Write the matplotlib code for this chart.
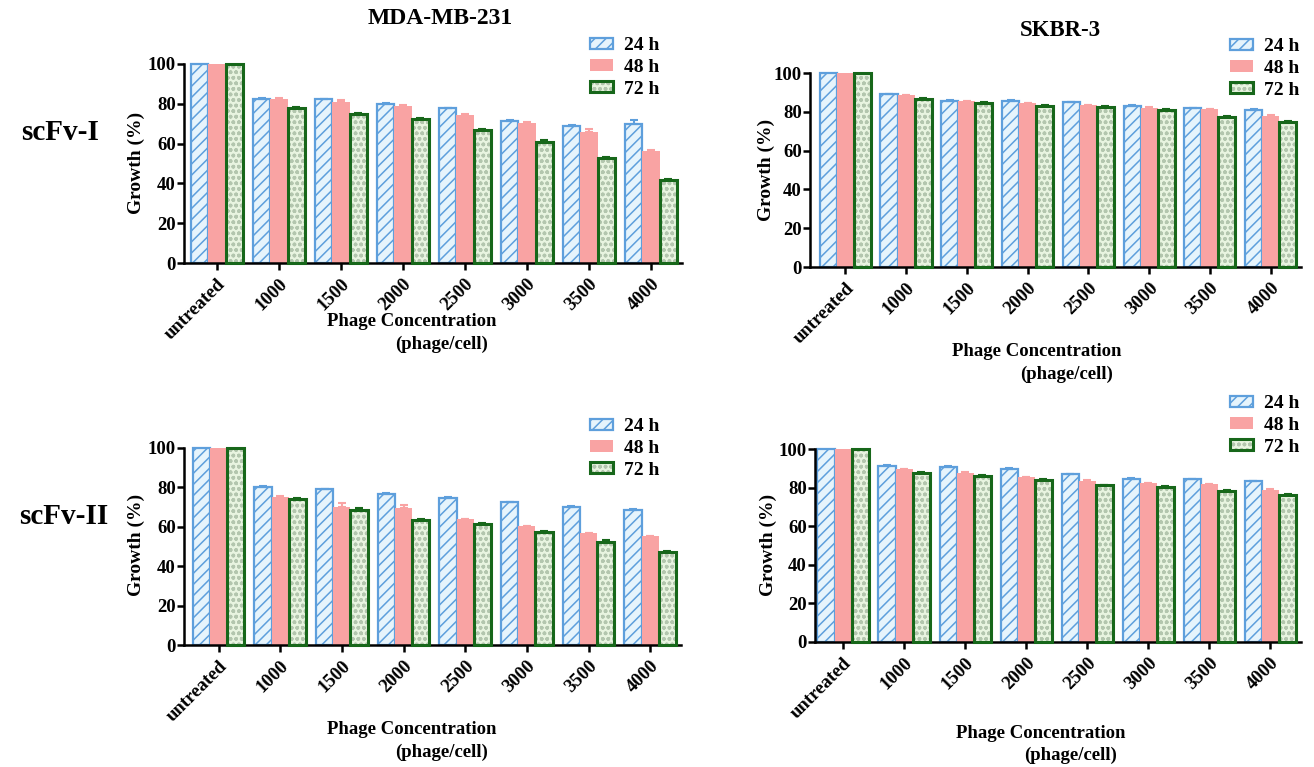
import numpy as np
import matplotlib.pyplot as plt
from matplotlib.patches import Patch

plt.rcParams['font.family'] = ['Liberation Serif', 'DejaVu Serif']
plt.rcParams['font.weight'] = 'bold'
plt.rcParams['hatch.linewidth'] = 1.1

categories = ['untreated', '1000', '1500', '2000', '2500', '3000', '3500', '4000']
series = ['24 h', '48 h', '72 h']

# growth (%)
mda_scfv1_24 = [100, 82.5, 82.2, 80.0, 77.8, 71.4, 68.8, 69.7]
mda_scfv1_48 = [100, 82.5, 81.0, 78.9, 74.5, 70.5, 65.8, 56.4]
mda_scfv1_72 = [100, 77.7, 74.9, 72.2, 67.0, 61.0, 52.9, 41.7]
mda_scfv1_err = [[0, 0.3, 0.3, 0.3, 0.3, 0.4, 0.5, 2.3],
                 [0, 0.2, 0.9, 0.3, 0.2, 0.3, 1.3, 0.2],
                 [0, 0.5, 0.5, 0.5, 0.5, 0.6, 0.6, 0.5]]

skbr_scfv1_24 = [100, 89.0, 85.8, 85.8, 84.8, 83.1, 81.9, 81.0]
skbr_scfv1_48 = [100, 88.5, 85.5, 84.5, 83.5, 82.2, 81.3, 78.0]
skbr_scfv1_72 = [100, 86.8, 84.7, 83.0, 82.3, 80.7, 77.2, 75.0]
skbr_scfv1_err = [[0, 0.3, 0.3, 0.3, 0.3, 0.3, 0.3, 0.3],
                  [0, 0.2, 0.2, 0.2, 0.2, 0.2, 0.2, 0.5],
                  [0, 0.5, 0.5, 0.5, 0.5, 0.5, 0.5, 0.5]]

mda_scfv2_24 = [100, 80.2, 79.0, 76.7, 74.6, 72.5, 70.3, 68.5]
mda_scfv2_48 = [100, 75.3, 69.8, 69.6, 64.0, 60.4, 56.7, 55.1]
mda_scfv2_72 = [100, 74.3, 68.5, 63.5, 61.2, 57.5, 52.4, 47.0]
mda_scfv2_err = [[0, 0.3, 0.3, 0.3, 0.3, 0.3, 0.3, 0.3],
                 [0, 0.2, 2.3, 1.4, 0.2, 0.2, 0.2, 0.2],
                 [0, 0.5, 0.8, 0.5, 0.5, 0.5, 0.8, 0.5]]

skbr_scfv2_24 = [100, 91.4, 90.7, 89.6, 87.0, 84.7, 84.2, 83.2]
skbr_scfv2_48 = [100, 89.5, 87.8, 85.4, 83.5, 82.2, 81.7, 79.0]
skbr_scfv2_72 = [100, 87.5, 85.9, 84.0, 81.1, 80.1, 78.0, 76.2]
skbr_scfv2_err = [[0, 0.3, 0.3, 0.3, 0.3, 0.3, 0.3, 0.3],
                  [0, 0.2, 0.2, 0.2, 0.2, 0.2, 0.2, 0.2],
                  [0, 0.5, 0.5, 0.5, 0.5, 0.5, 0.5, 0.5]]

blue_edge = '#5e9fdc'
blue_fill = '#e6f4fc'
pink = '#f9a3a3'
green_edge = '#17671a'
green_fill = '#e8f4e0'
green_hatch = '#b3c6ae'

W, H = 1314, 767
fig = plt.figure(figsize=(W / 100, H / 100), dpi=100)


def px(x0, y0, x1, y1):
    # pixel box -> figure fraction rect
    return [x0 / W, 1 - y1 / H, (x1 - x0) / W, (y1 - y0) / H]


def panel(rect, xleft, v24, v48, v72, err):
    ax = fig.add_axes(rect)
    x = np.arange(len(categories))
    w = 0.28
    ax.bar(x - w, v24, w, color=blue_fill, edgecolor=blue_edge, hatch='///',
           linewidth=1.6, zorder=2, clip_on=False)
    ax.bar(x, v48, w, color=pink, linewidth=0, zorder=2, clip_on=False)
    ax.bar(x + w, v72, w, color=green_fill, edgecolor=green_hatch, hatch='ooo',
           linewidth=0, zorder=2, clip_on=False)
    ax.bar(x + w, v72, w, fill=False, edgecolor=green_edge, linewidth=2.2,
           zorder=3, clip_on=False)
    for off, vals, e, c in [(-w, v24, err[0], blue_edge), (0, v48, err[1], pink),
                            (w, v72, err[2], green_edge)]:
        e = np.array(e)
        m = e > 0
        ax.errorbar((x + off)[m], np.array(vals)[m], yerr=[np.zeros(m.sum()), e[m]],
                    fmt='none', ecolor=c, elinewidth=1.5, capsize=3, capthick=1.5,
                    zorder=4, clip_on=False)
    ax.set_xlim(xleft, 7.5)
    ax.set_ylim(0, 100)
    ax.set_yticks([0, 20, 40, 60, 80, 100])
    ax.set_xticks(x)
    ax.set_xticklabels(categories, rotation=45, ha='right', rotation_mode='anchor')
    for s in ['top', 'right']:
        ax.spines[s].set_visible(False)
    for s in ['left', 'bottom']:
        ax.spines[s].set_linewidth(1.8)
    ax.tick_params(width=1.8, length=5, labelsize=13.5, pad=1)
    ax.tick_params(axis='x', pad=4)
    return ax


def legend(ax, x0, ytop):
    handles = [Patch(facecolor=blue_fill, edgecolor=blue_edge, hatch='///', linewidth=1.6),
               Patch(facecolor=pink, linewidth=0),
               (Patch(facecolor=green_fill, edgecolor=green_hatch, hatch='ooo', linewidth=0),
                Patch(fill=False, edgecolor=green_edge, linewidth=2.2))]
    ax.legend(handles, series, loc='upper left', bbox_to_anchor=(x0 / W, 1 - ytop / H),
              bbox_transform=fig.transFigure, frameon=False, fontsize=14,
              handlelength=1.2, handleheight=0.5, handletextpad=0.55,
              labelspacing=0.25, borderpad=0, borderaxespad=0)


ax1 = panel(px(184, 64, 682, 263), -0.53, mda_scfv1_24, mda_scfv1_48, mda_scfv1_72, mda_scfv1_err)
ax2 = panel(px(810, 73, 1301, 267), -0.58, skbr_scfv1_24, skbr_scfv1_48, skbr_scfv1_72, skbr_scfv1_err)
ax3 = panel(px(184, 448, 681, 645), -0.56, mda_scfv2_24, mda_scfv2_48, mda_scfv2_72, mda_scfv2_err)
ax4 = panel(px(815, 449, 1301, 642), -0.46, skbr_scfv2_24, skbr_scfv2_48, skbr_scfv2_72, skbr_scfv2_err)

legend(ax1, 590, 37)
legend(ax2, 1230, 38)
legend(ax3, 590, 418)
legend(ax4, 1230, 395)

fig.text(440 / W, 1 - 18 / H, 'MDA-MB-231', ha='center', va='center', fontsize=17)
fig.text(1060 / W, 1 - 30 / H, 'SKBR-3', ha='center', va='center', fontsize=16.5)
fig.text(60 / W, 1 - 133 / H, 'scFv-I', ha='center', va='center', fontsize=21)
fig.text(64 / W, 1 - 516 / H, 'scFv-II', ha='center', va='center', fontsize=21)

for (gx, gy) in [(136, 163), (766, 170), (136, 545), (768, 545)]:
    fig.text(gx / W, 1 - gy / H, 'Growth (%)', rotation=90, ha='center', va='center', fontsize=14)

for (cx, cy) in [(412, 322), (1037, 352), (412, 730), (1041, 733)]:
    fig.text(cx / W, 1 - cy / H, 'Phage Concentration', ha='center', va='center', fontsize=13.5)
    fig.text((cx + 30) / W, 1 - (cy + 22) / H, '(phage/cell)', ha='center', va='center', fontsize=13.5)

fig.savefig('out.png', dpi=100)
